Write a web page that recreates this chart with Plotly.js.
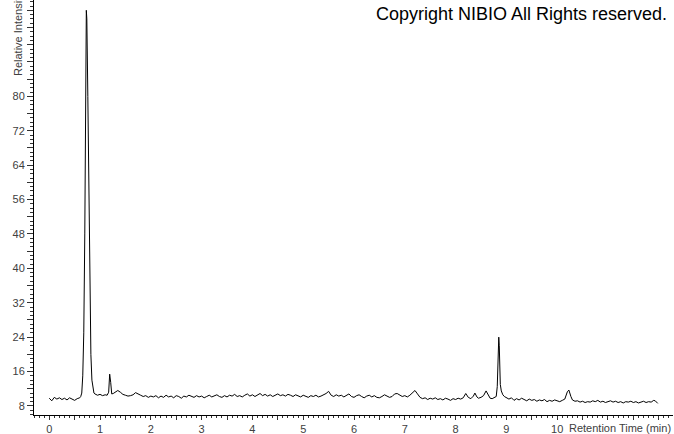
<!DOCTYPE html>
<html>
<head>
<meta charset="utf-8">
<script src="https://cdn.plot.ly/plotly-3.0.1.min.js"></script>
<style>html,body{margin:0;padding:0;background:#fff;}#chart{width:674px;height:434px;}</style>
</head>
<body>
<div id="chart"></div>
<script>
// Retention time (min)
const retentionTime = [
  0.00,0.05,0.10,0.15,0.20,0.25,0.30,0.35,0.40,0.45,0.50,0.55,0.60,
  0.62,0.64,0.66,0.68,0.70,0.72,0.73,0.74,0.76,0.78,0.80,0.82,0.84,0.86,0.88,0.90,
  0.95,1.00,1.05,1.10,1.14,1.17,1.19,1.21,1.23,1.26,1.30,1.35,1.40,1.45,1.50,1.55,1.60,1.65,1.70,1.75,1.80,1.85,1.90,1.95,2.00,
  2.05,2.10,2.15,2.20,2.25,2.30,2.35,2.40,2.45,2.50,2.55,2.60,2.65,2.70,2.75,2.80,2.85,2.90,2.95,3.00,
  3.05,3.10,3.15,3.20,3.25,3.30,3.35,3.40,3.45,3.50,3.55,3.60,3.65,3.70,3.75,3.80,3.85,3.90,3.95,4.00,
  4.05,4.10,4.15,4.20,4.25,4.30,4.35,4.40,4.45,4.50,4.55,4.60,4.65,4.70,4.75,4.80,4.85,4.90,4.95,5.00,
  5.05,5.10,5.15,5.20,5.25,5.30,5.35,5.40,5.45,5.50,5.55,5.60,5.65,5.70,5.75,5.80,5.85,5.90,5.95,6.00,
  6.05,6.10,6.15,6.20,6.25,6.30,6.35,6.40,6.45,6.50,6.55,6.60,6.65,6.70,6.75,6.80,6.85,6.90,6.95,7.00,
  7.05,7.10,7.15,7.20,7.25,7.30,7.35,7.40,7.45,7.50,7.55,7.60,7.65,7.70,7.75,7.80,7.85,7.90,7.95,8.00,
  8.05,8.10,8.15,8.20,8.25,8.30,8.35,8.38,8.42,8.45,8.50,8.55,8.60,8.64,8.68,8.72,8.76,8.80,
  8.82,8.84,8.85,8.86,8.87,8.88,8.90,8.93,8.96,9.00,
  9.05,9.10,9.15,9.20,9.25,9.30,9.35,9.40,9.45,9.50,9.55,9.60,9.65,9.70,9.75,9.80,9.85,9.90,9.95,10.00,
  10.05,10.10,10.15,10.20,10.23,10.27,10.30,10.35,10.40,10.45,10.50,10.55,10.60,10.65,10.70,10.75,10.80,10.85,10.90,10.95,
  11.00,11.05,11.10,11.15,11.20,11.25,11.30,11.35,11.40,11.45,11.50,11.55,11.60,11.65,11.70,11.75,11.80,11.85,11.90,11.93,11.98
];
// Relative intensity
const relativeIntensity = [
  9.8,9.2,10.0,9.6,9.9,9.5,9.8,9.4,9.9,9.5,9.3,9.7,9.9,
  10.2,11.0,15,25,48,86,100,98,80,55,32,20,14,12,11,10.8,
  10.5,10.7,10.4,10.6,10.5,11.2,15.4,13.5,10.8,10.9,11.3,11.6,11.2,10.7,10.5,10.3,10.4,10.6,11.1,10.7,10.5,10.2,10.4,10.0,10.3,
  10.1,10.4,9.9,10.3,10.0,10.5,10.1,10.3,9.9,10.4,10.2,9.8,10.3,10.1,10.5,10.2,10.0,10.4,10.1,10.3,
  9.9,10.2,10.5,10.1,10.3,10.6,10.2,10.0,10.4,10.1,10.5,10.3,10.7,10.2,10.4,10.1,10.5,10.8,10.3,10.6,
  10.2,10.5,10.9,10.4,10.7,10.3,10.6,10.2,10.5,10.8,10.4,10.6,10.3,10.7,10.5,10.2,10.6,10.4,10.1,10.5,
  10.3,10.0,10.4,10.2,10.5,10.1,10.3,10.6,10.9,11.4,10.5,10.2,10.6,10.3,10.5,10.1,10.4,10.8,10.2,10.0,
  10.4,10.6,10.2,9.9,10.3,10.5,10.1,10.4,10.0,9.9,10.2,10.6,10.3,10.0,10.2,10.8,10.9,10.5,10.2,10.4,
  10.1,10.5,11.0,11.6,10.8,10.0,9.7,9.9,9.5,9.8,9.6,9.9,9.5,9.7,9.4,9.8,9.6,9.3,9.7,9.5,
  9.8,9.6,9.9,10.9,10.0,9.7,10.3,11.0,10.1,9.8,10.0,10.4,11.5,10.6,9.8,9.7,9.9,10.2,
  12.5,19,24,22,17,13,11.5,10.6,10.2,10.0,
  9.6,9.9,9.3,9.7,9.4,9.8,9.5,9.2,9.6,9.3,9.5,9.1,9.4,9.2,9.5,9.0,9.3,9.1,9.4,9.2,
  9.0,9.3,9.6,11.3,11.7,10.2,9.4,9.1,9.2,8.9,9.1,8.8,9.0,8.9,9.2,9.0,9.3,8.9,9.1,8.8,
  9.0,9.2,8.9,9.1,8.8,9.0,8.7,9.0,8.9,9.1,8.8,9.0,8.7,8.9,9.1,8.8,9.0,8.9,9.3,9.2,8.6
];
// Axis ticks
const xTickVals = [0,0.5,1,1.5,2,2.5,3,3.5,4,4.5,5,5.5,6,6.5,7,7.5,8,8.5,9,9.5,10,10.5,11,11.5,12];
const xTickText = ["0","","1","","2","","3","","4","","5","","6","","7","","8","","9","","10","","","",""];
const yTickVals = [8,12,16,20,24,28,32,36,40,44,48,52,56,60,64,68,72,76,80,84,88,92,96,100];
const yTickText = ["8","","16","","24","","32","","40","","48","","56","","64","","72","","80","","","","",""];

const trace = {
  x: retentionTime, y: relativeIntensity, type: 'scatter', mode: 'lines',
  line: {color: '#000', width: 1}, hoverinfo: 'skip'
};
const tickFont = {family: 'Liberation Sans, Arial, sans-serif', size: 11, color: '#404040'};
const layout = {
  width: 674, height: 434,
  margin: {l: 34, r: 1, t: 0, b: 19, pad: 0},
  paper_bgcolor: '#fff', plot_bgcolor: '#fff',
  showlegend: false,
  xaxis: {
    range: [-0.3, 12.28], showgrid: false, zeroline: false,
    showline: true, linecolor: '#000', linewidth: 1,
    tickmode: 'array', tickvals: xTickVals, ticktext: xTickText,
    ticks: 'outside', ticklen: 4, tickcolor: '#333', tickwidth: 1,
    tickfont: tickFont,
    minor: {dtick: 0.1, tick0: 0, ticks: 'outside', ticklen: 2, tickcolor: '#333', showgrid: false}
  },
  yaxis: {
    range: [5.9, 102.4], showgrid: false, zeroline: false,
    showline: true, linecolor: '#000', linewidth: 1,
    tickmode: 'array', tickvals: yTickVals, ticktext: yTickText,
    ticks: 'outside', ticklen: 6, tickcolor: '#333', tickwidth: 1,
    tickfont: tickFont,
    minor: {dtick: 1, tick0: 0, ticks: 'outside', ticklen: 3, tickcolor: '#333', showgrid: false}
  },
  annotations: [
    {text: 'Copyright NIBIO All Rights reserved.', xref: 'paper', yref: 'paper',
     x: 0.993, y: 0.995, xanchor: 'right', yanchor: 'top', showarrow: false,
     font: {family: 'Liberation Sans, Arial, sans-serif', size: 18, color: '#000'}},
    {text: 'Retention Time (min)', xref: 'paper', yref: 'paper',
     x: 1.0, y: -0.031, xanchor: 'right', yanchor: 'middle', showarrow: false,
     font: {family: 'Liberation Sans, Arial, sans-serif', size: 11, color: '#404040'}},
    {text: 'Relative Intensity', xref: 'paper', yref: 'paper', textangle: -90,
     x: -0.025, y: 0.812, xanchor: 'center', yanchor: 'bottom', showarrow: false,
     font: {family: 'Liberation Sans, Arial, sans-serif', size: 11, color: '#404040'}}
  ]
};
Plotly.newPlot('chart', [trace], layout, {staticPlot: true, displayModeBar: false});
</script>
</body>
</html>
